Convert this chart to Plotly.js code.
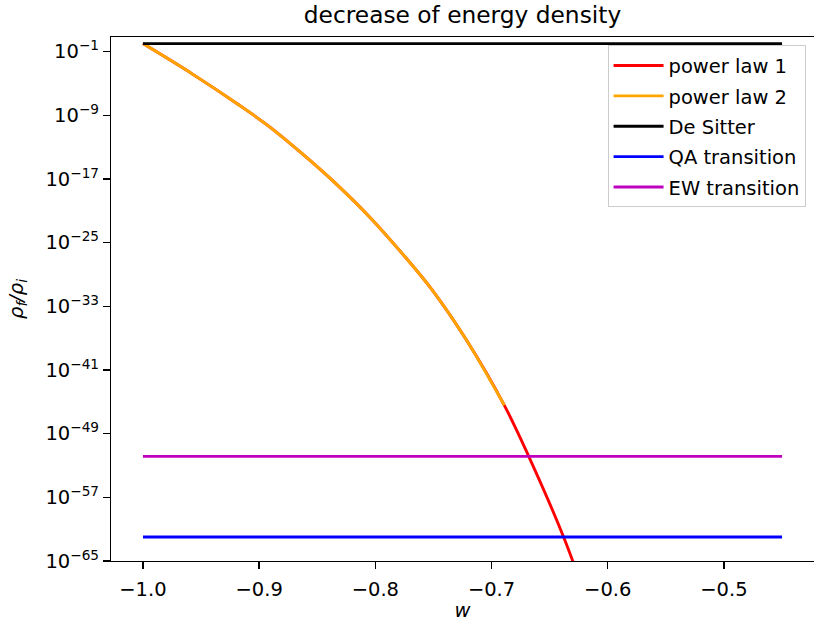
<!DOCTYPE html>
<html>
<head>
<meta charset="utf-8">
<script src="https://cdn.plot.ly/plotly-3.0.1.min.js"></script>
<style>html,body{margin:0;padding:0;background:#fff;}#chart{width:814px;height:622px;}</style>
</head>
<body>
<div id="chart"></div>
<script>
// equation-of-state parameter w
const wCurve = [-1.0, -0.958, -0.917, -0.891, -0.863, -0.834, -0.805, -0.777, -0.751, -0.722, -0.689, -0.668, -0.638, -0.620];
// rho_f / rho_i along the curve (power law 1)
const powerLaw1 = [1, 1.7e-4, 1.8e-8, 3.5e-11, 1.5e-14, 2.6e-18, 1.7e-22, 4.5e-27, 1.1e-31, 7.1e-38, 3.6e-46, 1.4e-52, 1.05e-62, 7.4e-70];
// power law 2 covers only the first part of the curve
const wCurve2 = [-1.0, -0.958, -0.917, -0.891, -0.863, -0.834, -0.805, -0.777, -0.751, -0.722, -0.689];
const powerLaw2 = [1, 1.7e-4, 1.8e-8, 3.5e-11, 1.5e-14, 2.6e-18, 1.7e-22, 4.5e-27, 1.1e-31, 7.1e-38, 3.6e-46];
// horizontal reference lines
const wFlat = [-1.0, -0.45];
const deSitter = [1, 1];
const qaTransition = [1.05e-62, 1.05e-62];
const ewTransition = [1.4e-52, 1.4e-52];

const seriesNames = ["power law 1", "power law 2", "De Sitter", "QA transition", "EW transition"];
const seriesColors = ["#ff0000", "#ffa500", "#000000", "#0000ff", "#bf00bf"];

const xTickVals = [-1.0, -0.9, -0.8, -0.7, -0.6, -0.5];
const xTickText = ["\u22121.0", "\u22120.9", "\u22120.8", "\u22120.7", "\u22120.6", "\u22120.5"];
const yTickExp = [-1, -9, -17, -25, -33, -41, -49, -57, -65];

const yTickVals = yTickExp.map(e => Math.pow(10, e));
const yTickText = yTickExp.map(e => "10<sup>" + (e < 0 ? "\u2212" + (-e) : e) + "</sup>");

const xs = [wCurve, wCurve2, wFlat, wFlat, wFlat];
const ys = [powerLaw1, powerLaw2, deSitter, qaTransition, ewTransition];

const traces = seriesNames.map((n, i) => ({
  x: xs[i], y: ys[i], name: n, type: "scatter", mode: "lines",
  line: {color: seriesColors[i], width: 2.9, shape: i < 2 ? "spline" : "linear", smoothing: 1},
  legendgroup: "g" + i
}));

const font = "DejaVu Sans, sans-serif";
const fs = 19.5;
const layout = {
  width: 814, height: 622,
  margin: {l: 111, r: 0, t: 37, b: 61},
  paper_bgcolor: "#ffffff", plot_bgcolor: "#ffffff",
  font: {family: font, size: fs, color: "#000000"},
  title: {text: "decrease of energy density", font: {family: font, size: 23.3, color: "#000"},
          x: 0.5, xref: "paper", y: 1, yref: "paper", yanchor: "bottom", pad: {b: 14}},
  xaxis: {
    range: [-1.0275, -0.4225], tickmode: "array", tickvals: xTickVals, ticktext: xTickText,
    showline: true, mirror: true, linecolor: "#000", linewidth: 1.4,
    ticks: "outside", ticklen: 6.7, tickwidth: 1.4, tickcolor: "#000", ticklabelstandoff: 3,
    showgrid: false, zeroline: false,
    tickfont: {family: font, size: fs},
    title: {text: "<i>w</i>", font: {family: font, size: fs}, standoff: 12}
  },
  yaxis: {
    type: "log", range: [-65, 0.83], tickmode: "array", tickvals: yTickVals, ticktext: yTickText,
    showline: true, mirror: true, linecolor: "#000", linewidth: 1.4,
    ticks: "outside", ticklen: 6.7, tickwidth: 1.4, tickcolor: "#000",
    showgrid: false, zeroline: false,
    tickfont: {family: font, size: fs},
    title: {text: "<i>\u03C1<sub>f</sub>/\u03C1<sub>i</sub></i>", font: {family: font, size: fs}, standoff: 16}
  },
  showlegend: true,
  legend: {
    x: 0.988, xanchor: "right", y: 0.984, yanchor: "top",
    bgcolor: "rgba(255,255,255,0.8)", bordercolor: "#cccccc", borderwidth: 1,
    font: {family: font, size: fs}, traceorder: "grouped", tracegroupgap: 2, itemwidth: 50
  }
};

Plotly.newPlot("chart", traces, layout, {displayModeBar: false, staticPlot: true});
</script>
</body>
</html>
